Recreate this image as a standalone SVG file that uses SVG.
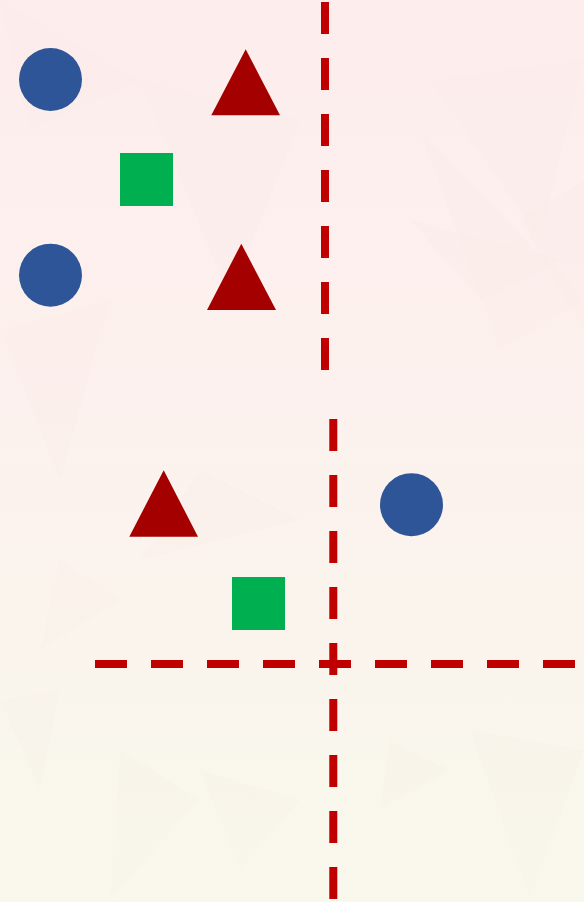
<svg xmlns="http://www.w3.org/2000/svg" width="584" height="902" viewBox="0 0 584 902">
<defs>
<linearGradient id="bg" x1="0" y1="0" x2="0" y2="1">
<stop offset="0" stop-color="#FDEDED"/>
<stop offset="0.45" stop-color="#FCF1EE"/>
<stop offset="0.75" stop-color="#FAF5EC"/>
<stop offset="1" stop-color="#F9F8EC"/>
</linearGradient>
<style>
.circ{fill:#2E5597}
.tri{fill:#A50000}
.sq{fill:#00B050}
.dash{stroke:#C00000;stroke-width:8;stroke-dasharray:32 24;fill:none}
.poly{fill:#E8D8D0;opacity:0.06}
</style>
</defs>
<rect width="584" height="902" fill="url(#bg)"/>
<g id="background-facets">
<polygon class="poly" points="0,0 140,80 30,130"/>
<polygon class="poly" points="140,80 300,120 230,300"/>
<polygon class="poly" points="430,80 584,60 540,240"/>
<polygon class="poly" points="420,130 500,350 584,300"/>
<polygon class="poly" points="0,330 110,300 60,480"/>
<polygon class="poly" points="200,470 300,520 140,560"/>
<polygon class="poly" points="520,220 584,180 584,330"/>
<polygon class="poly" points="410,220 480,300 560,260"/>
<polygon class="poly" points="0,700 60,690 40,790"/>
<polygon class="poly" points="120,750 200,800 110,900"/>
<polygon class="poly" points="200,770 300,800 240,870"/>
<polygon class="poly" points="390,740 450,770 380,810"/>
<polygon class="poly" points="470,730 584,750 530,900"/>
<polygon class="poly" points="60,560 120,600 40,650"/>
</g>
<g id="connectors">
<line class="dash" x1="325" y1="2" x2="325" y2="371"/>
<line class="dash" x1="333.3" y1="419" x2="333.3" y2="900"/>
<line class="dash" x1="95" y1="664" x2="577" y2="664"/>
</g>
<g id="circle1"><circle class="circ" cx="50.5" cy="79.5" r="31.5"/></g>
<g id="circle2"><circle class="circ" cx="50.5" cy="275.2" r="31.5"/></g>
<g id="circle3"><circle class="circ" cx="411.5" cy="504.7" r="31.5"/></g>
<g id="triangle1"><polygon class="tri" points="245.7,49.3 211.3,115.3 280,115.3"/></g>
<g id="triangle2"><polygon class="tri" points="241.3,243.7 207,310 276,310"/></g>
<g id="triangle3"><polygon class="tri" points="163.7,470.3 129.3,536.7 198,536.7"/></g>
<g id="square1"><rect class="sq" x="120" y="153" width="53" height="53"/></g>
<g id="square2"><rect class="sq" x="232" y="577" width="53" height="53"/></g>
</svg>
